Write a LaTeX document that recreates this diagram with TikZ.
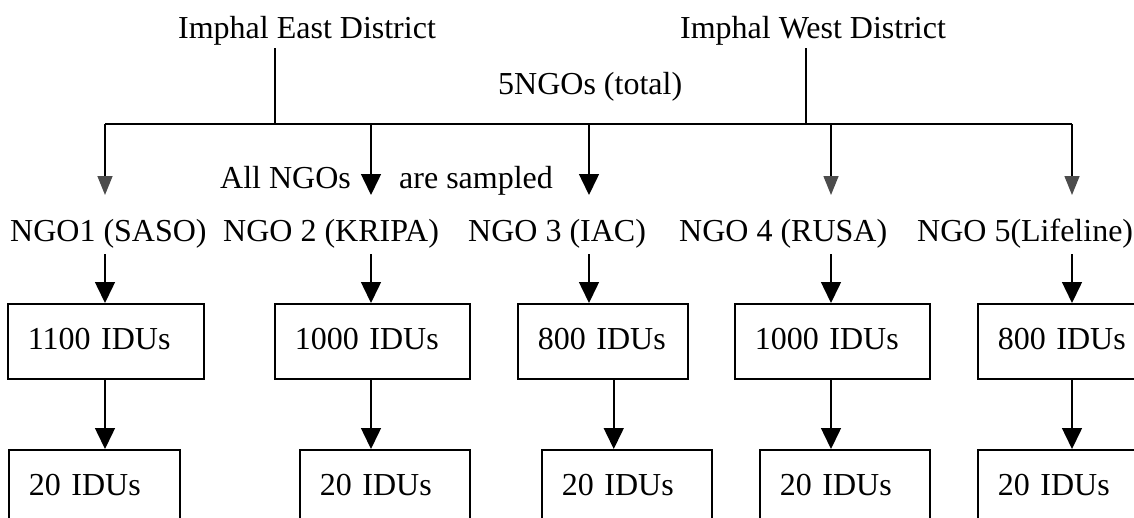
\documentclass[tikz,border=0pt]{standalone}
\usepackage{fontspec}
\setmainfont{Liberation Serif}
\usetikzlibrary{arrows.meta}
\tikzstyle{district} = [anchor=base, inner sep=3pt]
\tikzstyle{note} = [anchor=base west, inner sep=0pt]
\tikzstyle{ngo} = [anchor=base west, inner xsep=0pt, inner ysep=7pt, text height=22pt, text depth=6pt]
\tikzstyle{idus} = [rectangle, draw=black, line width=1.5pt, anchor=north west, minimum height=75pt, text depth=5pt, align=left, inner xsep=20pt]
\tikzstyle{line} = [line width=1.5pt]
\tikzstyle{arrow} = [line width=1.5pt, -{Triangle[length=21pt,width=20pt]}]
\tikzstyle{faint} = [line width=1.5pt, -{Triangle[length=19pt,width=15pt,black!70]}]

\begin{document}
\begin{tikzpicture}[x=1pt, y=-1pt, font=\fontsize{32}{38}\selectfont]
    \clip (0,0) rectangle (1134,517);
    \node (east) [district] at (307,38) {Imphal East District};
    \node (west) [district] at (813,38) {Imphal West District};
    \node (total) [note] at (498,94) {5NGOs (total)};
    \node (allngo) [note] at (220,188) {All NGOs};
    \node (sampled) [note] at (399,188) {are sampled};
    \coordinate (jE) at (275,124);
    \coordinate (jW) at (806,124);
    \coordinate (t1) at (105,195);
    \coordinate (t2) at (371,195);
    \coordinate (t3) at (589,195);
    \coordinate (t4) at (831,195);
    \coordinate (t5) at (1072,195);
    \node (ngo1) [ngo] at (10,241) {NGO1 (SASO)};
    \node (ngo2) [ngo] at (223,241) {NGO 2 (KRIPA)};
    \node (ngo3) [ngo] at (468,241) {NGO 3 (IAC)};
    \node (ngo4) [ngo] at (679,241) {NGO 4 (RUSA)};
    \node (ngo5) [ngo] at (917,241) {NGO 5(Lifeline)};
    \node (box1) [idus, text width=156pt] at (7,303) {1100 IDUs};
    \node (box2) [idus, text width=155pt] at (274,303) {1000 IDUs};
    \node (box3) [idus, text width=130pt] at (517,303) {800 IDUs};
    \node (box4) [idus, text width=155pt] at (734,303) {1000 IDUs};
    \node (box5) [idus, text width=130pt] at (977,303) {800 IDUs};
    \node (low1) [idus, text width=131pt] at (8,449) {20 IDUs};
    \node (low2) [idus, text width=130pt] at (299,449) {20 IDUs};
    \node (low3) [idus, text width=130pt] at (541,449) {20 IDUs};
    \node (low4) [idus, text width=130pt] at (759,449) {20 IDUs};
    \node (low5) [idus, text width=130pt] at (977,449) {20 IDUs};
    \draw [line] (jE |- east.south) -- (jE);
    \draw [line] (jW |- west.south) -- (jW);
    \draw [line] (t1 |- jE) -- (t5 |- jE);
    \draw [faint] (t1 |- jE) -- (t1);
    \draw [arrow] (t2 |- jE) -- (t2);
    \draw [arrow] (t3 |- jE) -- (t3);
    \draw [faint] (t4 |- jE) -- (t4);
    \draw [faint] (t5 |- jE) -- (t5);
    \draw [arrow] (t1 |- ngo1.south) -- (t1 |- box1.north);
    \draw [arrow] (t2 |- ngo2.south) -- (t2 |- box2.north);
    \draw [arrow] (t3 |- ngo3.south) -- (t3 |- box3.north);
    \draw [arrow] (t4 |- ngo4.south) -- (t4 |- box4.north);
    \draw [arrow] (t5 |- ngo5.south) -- (t5 |- box5.north);
    \draw [arrow] (t1 |- box1.south) -- (t1 |- low1.north);
    \draw [arrow] (t2 |- box2.south) -- (t2 |- low2.north);
    \draw [arrow] ([xshift=11pt]box3.south) -- ([xshift=11pt]box3.south |- low3.north);
    \draw [arrow] (t4 |- box4.south) -- (t4 |- low4.north);
    \draw [arrow] (t5 |- box5.south) -- (t5 |- low5.north);
\end{tikzpicture}
\end{document}
